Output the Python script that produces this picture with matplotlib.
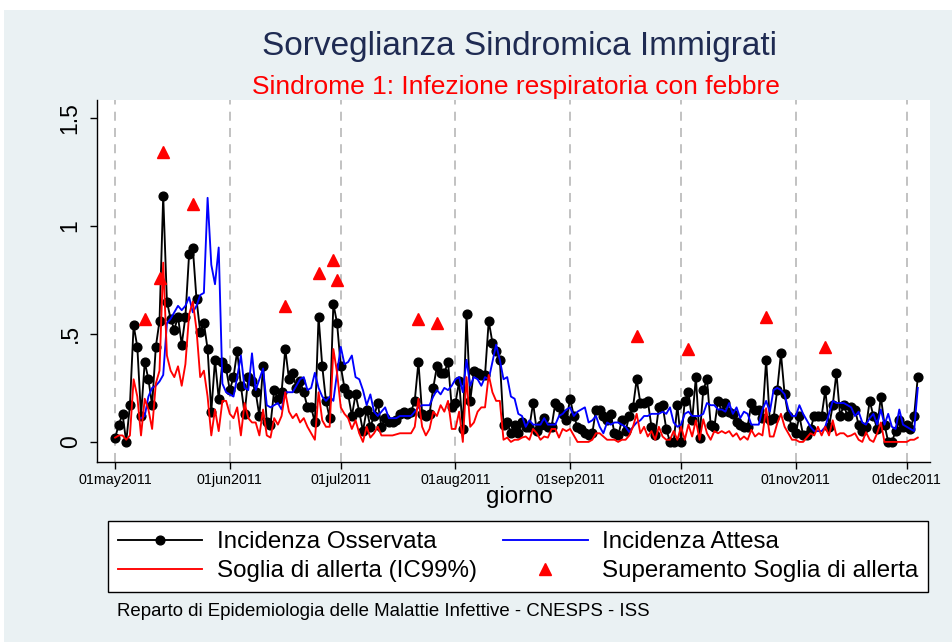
import numpy as np
import pandas as pd
import matplotlib
matplotlib.use('Agg')
import matplotlib.pyplot as plt
from matplotlib.lines import Line2D
from matplotlib.patches import Rectangle

plt.rcParams['font.family'] = ['Liberation Sans', 'DejaVu Sans']

# ---------------- data ----------------
start_date = '2011-05-01'

observed = [
    # May
    0.02, 0.08, 0.13, 0.00, 0.17, 0.54, 0.44, 0.12, 0.37, 0.29, 0.17, 0.44, 0.56, 1.14, 0.65, 0.57,
    0.52, 0.58, 0.45, 0.58, 0.87, 0.90, 0.66, 0.51, 0.55, 0.43, 0.14, 0.38, 0.20, 0.37, 0.34,
    # June
    0.24, 0.30, 0.42, 0.26, 0.13, 0.30, 0.28, 0.23, 0.12, 0.35, 0.09, 0.08, 0.24, 0.20, 0.23,
    0.43, 0.29, 0.32, 0.25, 0.28, 0.23, 0.16, 0.16, 0.09, 0.58, 0.35, 0.19, 0.11, 0.64, 0.55,
    # July
    0.35, 0.25, 0.22, 0.12, 0.22, 0.14, 0.05, 0.15, 0.07, 0.12, 0.18, 0.07, 0.11, 0.09, 0.09, 0.10,
    0.13, 0.14, 0.13, 0.14, 0.19, 0.37, 0.13, 0.12, 0.13, 0.25, 0.35, 0.32, 0.32, 0.37, 0.16,
    # August
    0.18, 0.28, 0.06, 0.59, 0.19, 0.33, 0.32, 0.31, 0.31, 0.56, 0.46, 0.42, 0.38, 0.08, 0.09, 0.04,
    0.08, 0.04, 0.09, 0.07, 0.07, 0.18, 0.05, 0.08, 0.11, 0.07, 0.07, 0.18, 0.16, 0.13, 0.10,
    # September
    0.20, 0.12, 0.07, 0.06, 0.04, 0.03, 0.04, 0.15, 0.15, 0.12, 0.10, 0.13, 0.04, 0.03, 0.10,
    0.05, 0.12, 0.16, 0.29, 0.18, 0.18, 0.19, 0.07, 0.03, 0.16, 0.17, 0.06, 0.00, 0.00, 0.17,
    # October
    0.00, 0.19, 0.23, 0.10, 0.30, 0.02, 0.24, 0.29, 0.08, 0.07, 0.19, 0.14, 0.18, 0.14, 0.13, 0.09,
    0.08, 0.07, 0.07, 0.18, 0.15, 0.15, 0.11, 0.38, 0.10, 0.11, 0.24, 0.41, 0.22, 0.12, 0.07,
    # November
    0.04, 0.12, 0.03, 0.03, 0.06, 0.12, 0.12, 0.12, 0.24, 0.07, 0.17, 0.32, 0.12, 0.17, 0.12,
    0.16, 0.15, 0.08, 0.05, 0.07, 0.19, 0.12, 0.06, 0.21, 0.08, 0.00, 0.00, 0.05, 0.10, 0.07,
    # December
    0.08, 0.06, 0.12, 0.30,
]

expected = [
    # May
    np.nan, np.nan, np.nan, np.nan, np.nan, np.nan, np.nan, 0.11, 0.12, 0.21, 0.25, 0.26, 0.28, 0.31,
    0.55, 0.57, 0.60, 0.63, 0.61, 0.63, 0.67, 0.60, 0.63, 0.68, 0.69, 1.13, 0.82, 0.73, 0.90, 0.27, 0.23,
    # June
    0.22, 0.21, 0.30, 0.40, 0.25, 0.24, 0.41, 0.24, 0.29, 0.34, 0.17, 0.16, 0.17, 0.18, 0.15,
    0.23, 0.23, 0.23, 0.26, 0.29, 0.30, 0.24, 0.25, 0.32, 0.25, 0.21, 0.19, 0.21, 0.19, 0.32,
    # July
    0.44, 0.36, 0.37, 0.40, 0.30, 0.29, 0.24, 0.17, 0.22, 0.14, 0.12, 0.14, 0.16, 0.11, 0.11, 0.11,
    0.12, 0.12, 0.12, 0.12, 0.14, 0.16, 0.17, 0.17, 0.17, 0.21, 0.24, 0.22, 0.25, 0.24, 0.26,
    # August
    0.29, 0.30, 0.23, 0.38, 0.26, 0.30, 0.29, 0.26, 0.30, 0.29, 0.37, 0.45, 0.38, 0.29, 0.30, 0.21,
    0.20, 0.13, 0.12, 0.07, 0.10, 0.08, 0.08, 0.08, 0.11, 0.08, 0.08, 0.08, 0.12, 0.13, 0.15,
    # September
    0.16, 0.12, 0.14, 0.15, 0.16, 0.09, 0.10, 0.12, 0.07, 0.04, 0.09, 0.08, 0.09, 0.09, 0.08,
    0.07, 0.045, 0.07, 0.09, 0.10, 0.12, 0.12, 0.13, 0.13, 0.13, 0.14, 0.13, 0.16, 0.09, 0.07,
    # October
    0.08, 0.13, 0.14, 0.12, 0.12, 0.12, 0.13, 0.18, 0.17, 0.17, 0.15, 0.15, 0.14, 0.18, 0.13, 0.16,
    0.11, 0.14, 0.13, 0.08, 0.08, 0.08, 0.15, 0.19, 0.14, 0.24, 0.25, 0.24, 0.22, 0.15, 0.12,
    # November
    0.12, 0.17, 0.13, 0.10, 0.07, 0.05, 0.05, 0.05, 0.07, 0.13, 0.19, 0.18, 0.18, 0.18, 0.17,
    0.16, 0.12, 0.14, 0.09, 0.08, 0.11, 0.13, 0.08, 0.15, 0.08, 0.13, 0.07, 0.06, 0.15, 0.08,
    # December
    0.07, 0.06, 0.05, 0.25,
]

threshold = [
    # May
    0.02, 0.03, 0.03, 0.01, 0.03, 0.29, 0.21, 0.03, 0.20, 0.15, 0.06, 0.27, 0.33, 0.83, 0.40, 0.33,
    0.30, 0.35, 0.26, 0.36, 0.59, 0.65, 0.52, 0.30, 0.33, 0.21, 0.03, 0.15, 0.05, 0.19, 0.19,
    # June
    0.13, 0.11, 0.16, 0.03, 0.18, 0.11, 0.09, 0.09, 0.03, 0.15, 0.03, 0.02, 0.11, 0.08, 0.12,
    0.23, 0.14, 0.11, 0.13, 0.09, 0.11, 0.07, 0.04, 0.01, 0.23, 0.10, 0.07, 0.07, 0.43, 0.32,
    # July
    0.16, 0.13, 0.11, 0.06, 0.10, 0.04, 0.00, 0.07, 0.02, 0.04, 0.07, 0.03, 0.03, 0.03, 0.03, 0.035,
    0.04, 0.04, 0.04, 0.04, 0.07, 0.20, 0.07, 0.03, 0.06, 0.14, 0.12, 0.17, 0.14, 0.19, 0.06,
    # August
    0.06, 0.14, 0.00, 0.30, 0.07, 0.09, 0.14, 0.16, 0.16, 0.31, 0.23, 0.19, 0.19, 0.01, 0.02, 0.00,
    0.01, 0.01, 0.02, 0.025, 0.01, 0.06, 0.04, 0.01, 0.025, 0.02, 0.06, 0.06, 0.02, 0.06, 0.05,
    # September
    0.06, 0.03, 0.00, 0.00, 0.00, 0.00, 0.01, 0.04, 0.04, 0.025, 0.01, 0.01, 0.01, 0.00, 0.01,
    0.01, 0.03, 0.07, 0.13, 0.04, 0.07, 0.025, 0.05, 0.01, 0.07, 0.025, 0.01, 0.01, 0.05, 0.01,
    # October
    0.07, 0.01, 0.08, 0.025, 0.10, 0.01, 0.105, 0.04, 0.01, 0.05, 0.04, 0.05, 0.04, 0.05, 0.025, 0.04,
    0.01, 0.025, 0.01, 0.056, 0.025, 0.04, 0.03, 0.156, 0.025, 0.025, 0.086, 0.13, 0.07, 0.04, 0.01,
    # November
    0.01, 0.00, 0.00, 0.02, 0.04, 0.03, 0.07, 0.03, 0.07, 0.03, 0.10, 0.03, 0.04, 0.04, 0.025,
    0.03, 0.04, 0.01, 0.00, 0.045, 0.01, 0.00, 0.04, 0.09, 0.00, 0.00, 0.00, 0.00, 0.00, 0.00,
    # December
    0.00, 0.01, 0.01, 0.02,
]

alert_days = ['2011-05-09', '2011-05-13', '2011-05-14', '2011-05-22', '2011-06-16',
              '2011-06-25', '2011-06-29', '2011-06-30', '2011-07-22', '2011-07-27',
              '2011-09-19', '2011-10-03', '2011-10-24', '2011-11-09']
marker_offset = 0.2   # triangles drawn above the observed value

month_ticks = pd.date_range('2011-05-01', '2011-12-01', freq='MS')
y_ticks = [0, 0.5, 1, 1.5]
y_ticklabels = ['0', '.5', '1', '1.5']

title = 'Sorveglianza Sindromica Immigrati'
subtitle = 'Sindrome 1: Infezione respiratoria con febbre'
xlabel = 'giorno'
footer = 'Reparto di Epidemiologia delle Malattie Infettive - CNESPS - ISS'
labels = ['Incidenza Osservata', 'Soglia di allerta (IC99%)', 'Incidenza Attesa',
          'Superamento Soglia di allerta']

# ---------------- figure ----------------
W, H = 952, 642
fig = plt.figure(figsize=(W / 100, H / 100), dpi=100)
fig.patch.set_facecolor('white')
fig.add_artist(Rectangle((4 / W, 0), 1 - 4 / W, 1 - 10 / H, transform=fig.transFigure,
                         facecolor='#EAF1F3', edgecolor='none', zorder=-5))

ax_l, ax_r, ax_t, ax_b = 97, 930, 100, 462
ax = fig.add_axes([ax_l / W, 1 - ax_b / H, (ax_r - ax_l) / W, (ax_b - ax_t) / H])
ax.set_facecolor('white')

dates = pd.date_range(start_date, periods=len(observed), freq='D')
obs = pd.Series(observed, index=dates)

ax.plot(dates, observed, color='black', lw=1.35, marker='o', ms=6.3, zorder=3)
ax.plot(dates, expected, color='#0000FF', lw=1.35, zorder=4)
ax.plot(dates, threshold, color='#FF0000', lw=1.35, zorder=5)
alert = pd.to_datetime(alert_days)
ax.plot(alert, obs[alert].values + marker_offset, linestyle='none', marker='^',
        color='#FF0000', ms=8.5, zorder=6)

t0 = pd.Timestamp(start_date)
ax.set_xlim(t0 - pd.Timedelta(hours=4.9 * 24), t0 + pd.Timedelta(hours=220.3 * 24))
ax.set_ylim(-0.093, 1.583)

ax.set_xticks(month_ticks)
ax.set_xticklabels([d.strftime('%d%b%Y').lower() for d in month_ticks], fontsize=10.3)
ax.set_yticks(y_ticks)
ax.set_yticklabels(y_ticklabels, fontsize=16.5, rotation=90, va='center')

ax.grid(axis='x', linestyle=(0, (5, 4)), color='#BDBDBD', linewidth=1.3)
ax.grid(axis='y', visible=False)
for s in ['top', 'right']:
    ax.spines[s].set_visible(False)
for s in ['left', 'bottom']:
    ax.spines[s].set_color('black')
    ax.spines[s].set_linewidth(1.0)
ax.tick_params(axis='both', direction='out', length=5, width=1, colors='black')
ax.tick_params(axis='x', pad=3)
ax.tick_params(axis='y', pad=6)

fig.text(520 / W, 1 - 47 / H, title, ha='center', va='center', fontsize=24, color='#1F2B52')
fig.text(516 / W, 1 - 87 / H, subtitle, ha='center', va='center', fontsize=19, color='#FF0000')
fig.text(519 / W, 1 - 497 / H, xlabel, ha='center', va='center', fontsize=17.4, color='black')
fig.text(117 / W, 1 - 611 / H, footer, ha='left', va='center', fontsize=13.4, color='black')

h1 = Line2D([], [], color='black', lw=1.35, marker='o', ms=6.3)
h2 = Line2D([], [], color='#0000FF', lw=1.35)
h3 = Line2D([], [], color='#FF0000', lw=1.35)
h4 = Line2D([], [], color='#FF0000', marker='^', ms=8.5, linestyle='none')
leg = fig.legend([h1, h3, h2, h4], labels, ncol=2, loc='lower left',
                 bbox_to_anchor=(108 / W, 1 - 592 / H, (928 - 108) / W, 72 / H),
                 mode='expand', borderaxespad=0, fancybox=False, edgecolor='black',
                 framealpha=1, fontsize=17.4, handlelength=3.5, handletextpad=0.6,
                 borderpad=0.4, labelspacing=0.3)
leg.get_frame().set_linewidth(1.0)

fig.savefig('out.png', dpi=100, facecolor=fig.get_facecolor())
